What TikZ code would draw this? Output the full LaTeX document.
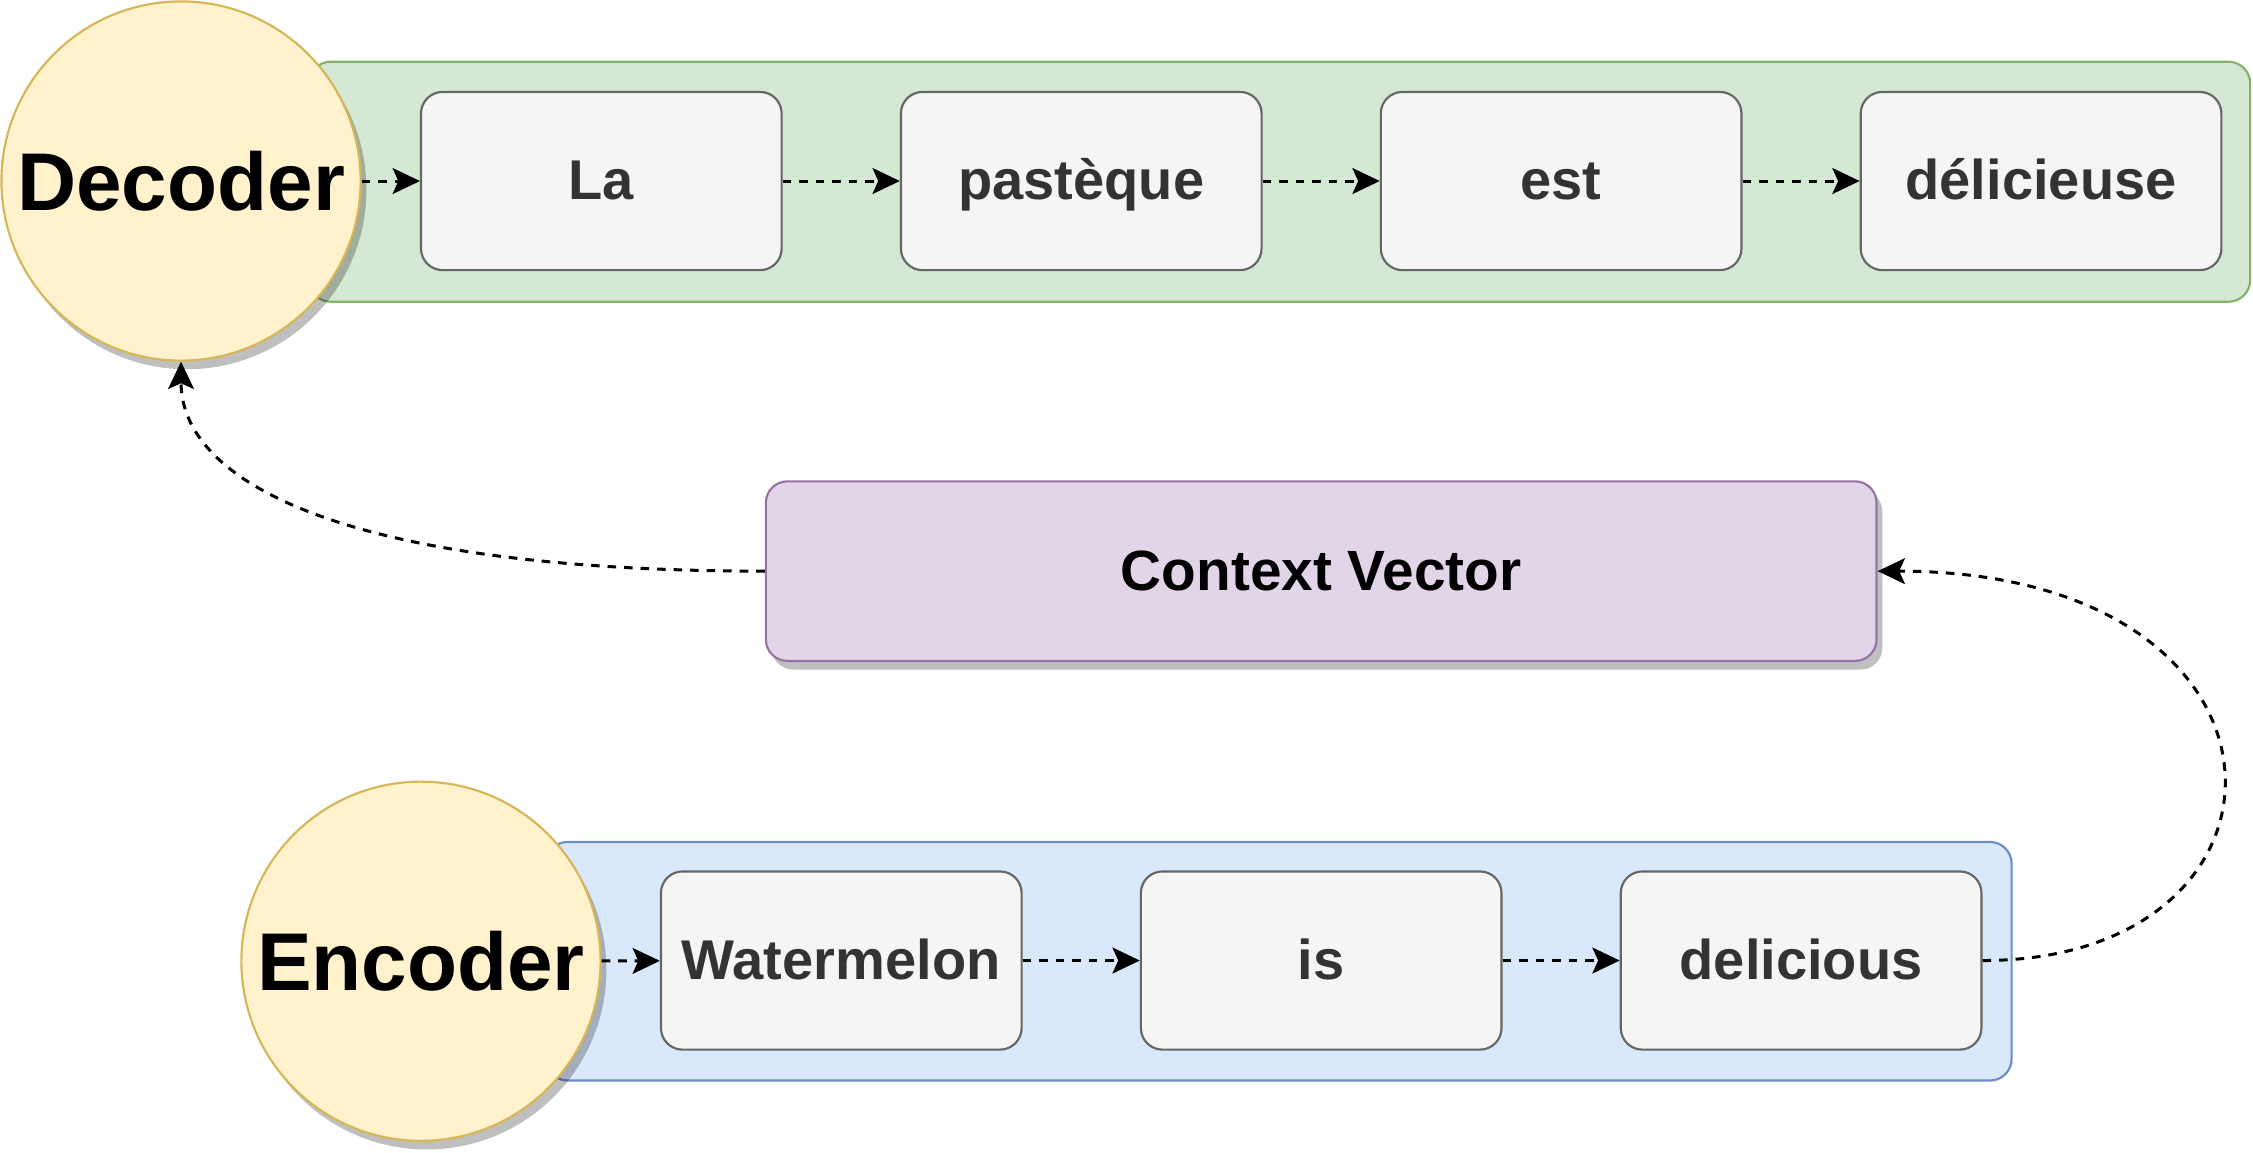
\documentclass[tikz,border=0pt]{standalone}
\usepackage{fontspec}
\setmainfont{Liberation Sans}
\usetikzlibrary{arrows.meta, shadows}

\definecolor{coderfill}{HTML}{FFF2CC}
\definecolor{coderline}{HTML}{D6B656}
\definecolor{decfill}{HTML}{D5E8D4}
\definecolor{decline}{HTML}{82B366}
\definecolor{encfill}{HTML}{DAE8FC}
\definecolor{encline}{HTML}{6C8EBF}
\definecolor{ctxfill}{HTML}{E1D5E7}
\definecolor{ctxline}{HTML}{9673A6}
\definecolor{wordfill}{HTML}{F5F5F5}
\definecolor{wordline}{HTML}{666666}
\definecolor{wordtext}{HTML}{333333}

\tikzset{
    shade/.style  = {drop shadow = {shadow xshift = 4pt, shadow yshift = -6pt, fill = black, opacity = 0.25}},
    coder/.style  = {circle, draw = coderline, fill = coderfill, line width = 1.5pt, minimum size = 250pt,
                     inner sep = 0pt, shade, font = \fontsize{57}{60}\selectfont\bfseries},
    word/.style   = {rectangle, rounded corners = 15pt, draw = wordline, fill = wordfill, text = wordtext,
                     line width = 1.5pt, minimum width = 251pt, minimum height = 124pt,
                     text height = 32pt, text depth = 6pt,
                     font = \fontsize{39}{44}\selectfont\bfseries},
    flow/.style   = {line width = 2.1pt, dash pattern = on 6pt off 5.5pt,
                     -{Stealth[length = 19pt, width = 18pt, inset = 4pt]}},
}

\begin{document}
\begin{tikzpicture}[x = 1pt, y = 1pt]
    \useasboundingbox (0, 0) rectangle (1568, 802);

    % Decoder row
    \draw[fill = decfill, draw = decline, line width = 1.5pt, rounded corners = 15pt]
        (215, 592) rectangle (1566, 759);           % Decoder container
    \node[coder] (dec) at (126, 676) {Decoder};   % Decoder circle
    \node[word]  (la)  at ( 418.5, 676) {La};
    \node[word]  (pas) at ( 752.5, 676) {pastèque};
    \node[word]  (est) at (1086.5, 676) {est};
    \node[word]  (del) at (1420.5, 676) {délicieuse};

    \draw[flow] (dec) -- (la);
    \draw[flow] (la)  -- (pas);
    \draw[flow] (pas) -- (est);
    \draw[flow] (est) -- (del);

    % Context vector
    \node[rectangle, rounded corners = 15pt, draw = ctxline, fill = ctxfill, line width = 1.5pt,
          minimum width = 773pt, minimum height = 125pt, shade,
          font = \fontsize{39.5}{44}\selectfont\bfseries] (ctx) at (919.5, 404.5) {Context Vector};

    % Encoder row
    \draw[fill = encfill, draw = encline, line width = 1.5pt, rounded corners = 15pt]
        (380, 50) rectangle (1400, 216);            % Encoder container
    \node[coder] (enc) at (293, 133) {Encoder};   % Encoder circle
    \node[word]  (wat) at ( 585.5, 133.5) {Watermelon};
    \node[word]  (is)  at ( 919.5, 133.5) {is};
    \node[word]  (dlc) at (1253.5, 133.5) {delicious};

    \draw[flow] (enc) -- (wat);
    \draw[flow] (wat) -- (is);
    \draw[flow] (is)  -- (dlc);

    % Links through the context vector
    \draw[flow] (dlc.east) .. controls (1614, 133.5) and (1614, 404.5) .. (ctx.east);
    \draw[flow] (ctx.west) .. controls (230, 404.5) and (126, 470) .. (dec.south);
\end{tikzpicture}
\end{document}
